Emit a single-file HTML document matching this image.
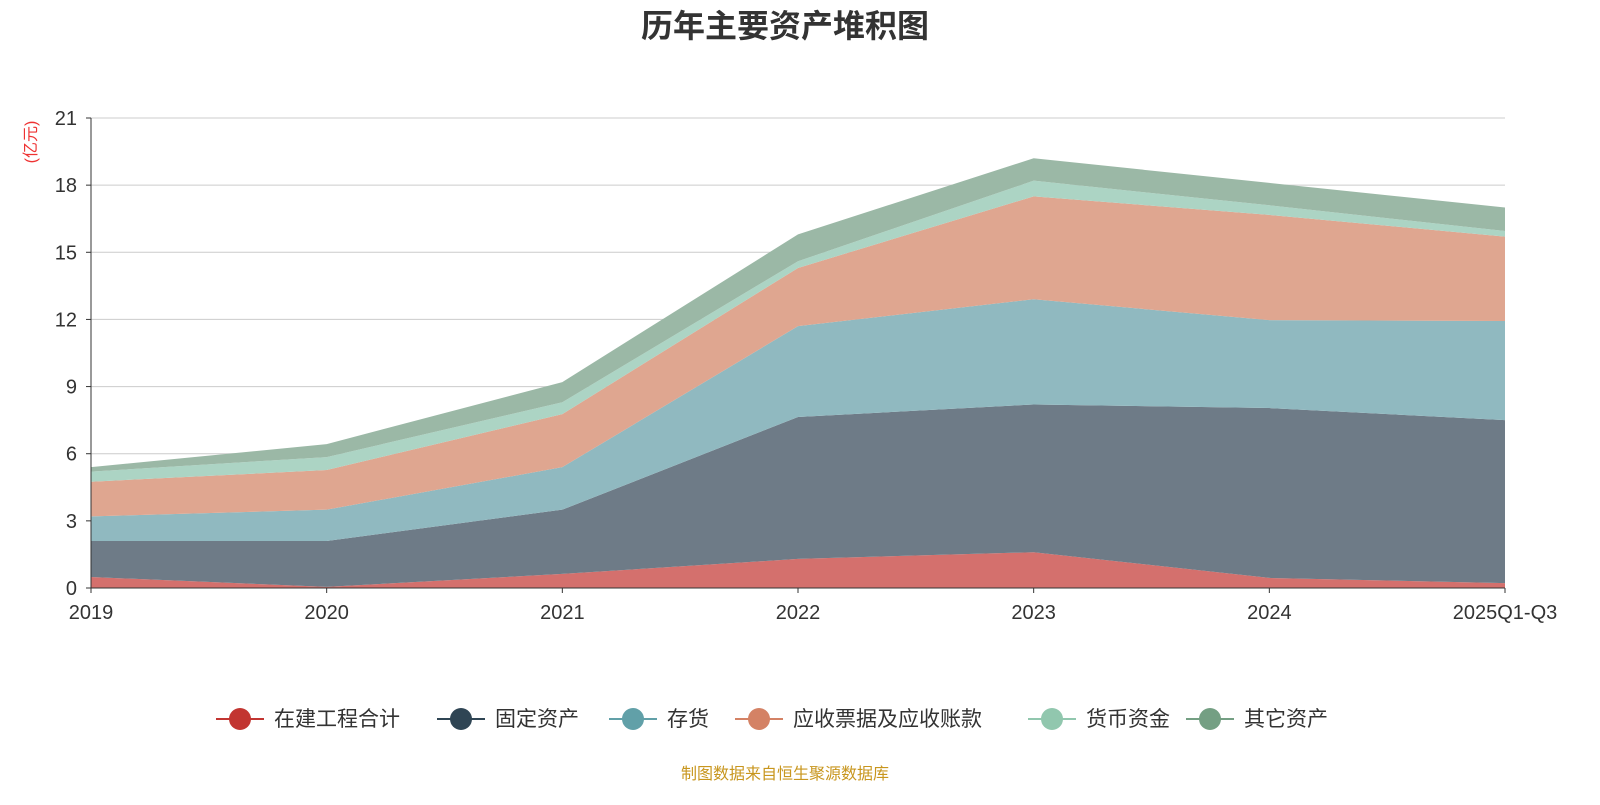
<!DOCTYPE html>
<html><head><meta charset="utf-8"><style>
body{margin:0;background:#fff;font-family:"Liberation Sans","Noto Sans CJK SC",sans-serif;}
svg text{font-family:"Liberation Sans","Noto Sans CJK SC",sans-serif;}
</style></head><body>
<svg id="c" width="1600" height="800">
<text x="785" y="37" text-anchor="middle" font-size="32" font-weight="bold" fill="#333">历年主要资产堆积图</text>
<text transform="translate(36,142) rotate(-90)" text-anchor="middle" font-size="16" fill="#e33">(亿元)</text>
<g id="grid"></g><g id="areas"></g><g id="axes"></g><g id="legend"></g>
<text x="785" y="779" text-anchor="middle" font-size="16" fill="#c8961e">制图数据来自恒生聚源数据库</text>
</svg>
<script>
const categories=["2019","2020","2021","2022","2023","2024","2025Q1-Q3"];
const seriesNames=["在建工程合计","固定资产","存货","应收票据及应收账款","货币资金","其它资产"];
const s0=[0.49,0.05,0.63,1.3,1.6,0.45,0.22];
const s1=[1.61,2.05,2.87,6.34,6.6,7.59,7.28];
const s2=[1.1,1.4,1.9,4.06,4.7,3.93,4.43];
const s3=[1.55,1.77,2.37,2.6,4.6,4.7,3.77];
const s4=[0.45,0.58,0.53,0.3,0.7,0.43,0.25];
const s5=[0.2,0.58,0.9,1.2,1.0,1.0,1.05];
const yTicks=[0,3,6,9,12,15,18,21];
const series=[s0,s1,s2,s3,s4,s5];
const lineCols=["#c23531","#2f4554","#61a0a8","#d48265","#91c7ae","#749f83"];
const fillCols=["#d4706d","#6e7b87","#90b9c0","#dfa690","#acd4c4","#9bb8a6"];
const X0=91,X1=1505,Y0=588,Y1=118,YMAX=21;
const xs=i=>X0+(X1-X0)*i/(categories.length-1);
const ys=v=>Y0-(Y0-Y1)*v/YMAX;
const NS="http://www.w3.org/2000/svg";
function mk(t,a,p){const e=document.createElementNS(NS,t);for(const k in a)e.setAttribute(k,a[k]);p.appendChild(e);return e;}
const grid=document.getElementById('grid'),areas=document.getElementById('areas'),axes=document.getElementById('axes'),leg=document.getElementById('legend');
yTicks.forEach(t=>{
 if(t>0){const l=mk('line',{x1:X0,x2:X1,y1:ys(t),y2:ys(t),stroke:'#ccc'},grid);
 
 }
 const tx=mk('text',{x:X0-14,y:ys(t)+7,'text-anchor':'end','font-size':20,fill:'#333'},axes);tx.textContent=t;
 
 
 mk('line',{x1:X0-5,x2:X0,y1:ys(t),y2:ys(t),stroke:'#333'},axes);
});
let base=categories.map(()=>0);
series.forEach((s,k)=>{
 const top=base.map((b,i)=>b+s[i]);
 let d='M'+top.map((v,i)=>xs(i)+','+ys(v)).join(' L');
 for(let i=categories.length-1;i>=0;i--)d+=' L'+xs(i)+','+ys(base[i]);
 const p=mk('path',{d:d+'Z',fill:fillCols[k]},areas);
 
 
 base=top;
});
mk('line',{x1:X0,x2:X0,y1:Y1,y2:Y0,stroke:'#333'},axes);
mk('line',{x1:X0,x2:X1,y1:Y0,y2:Y0,stroke:'#333'},axes);
categories.forEach((c,i)=>{
 mk('line',{x1:xs(i),x2:xs(i),y1:Y0,y2:Y0+5,stroke:'#333'},axes);
 const t=mk('text',{x:xs(i),y:Y0+31,'text-anchor':'middle','font-size':20,fill:'#333'},axes);t.textContent=c;
 
 
});
const lx=[216,437,609,735,1028,1186];
seriesNames.forEach((n,k)=>{
 const g=mk('g',{},leg);
 
 
 mk('line',{x1:lx[k],x2:lx[k]+48,y1:719,y2:719,stroke:lineCols[k],'stroke-width':2},g);
 mk('circle',{cx:lx[k]+24,cy:719,r:11,fill:lineCols[k]},g);
 const t=mk('text',{x:lx[k]+58,y:726,'font-size':21,fill:'#333'},g);t.textContent=n;
});
</script>
</body></html>
